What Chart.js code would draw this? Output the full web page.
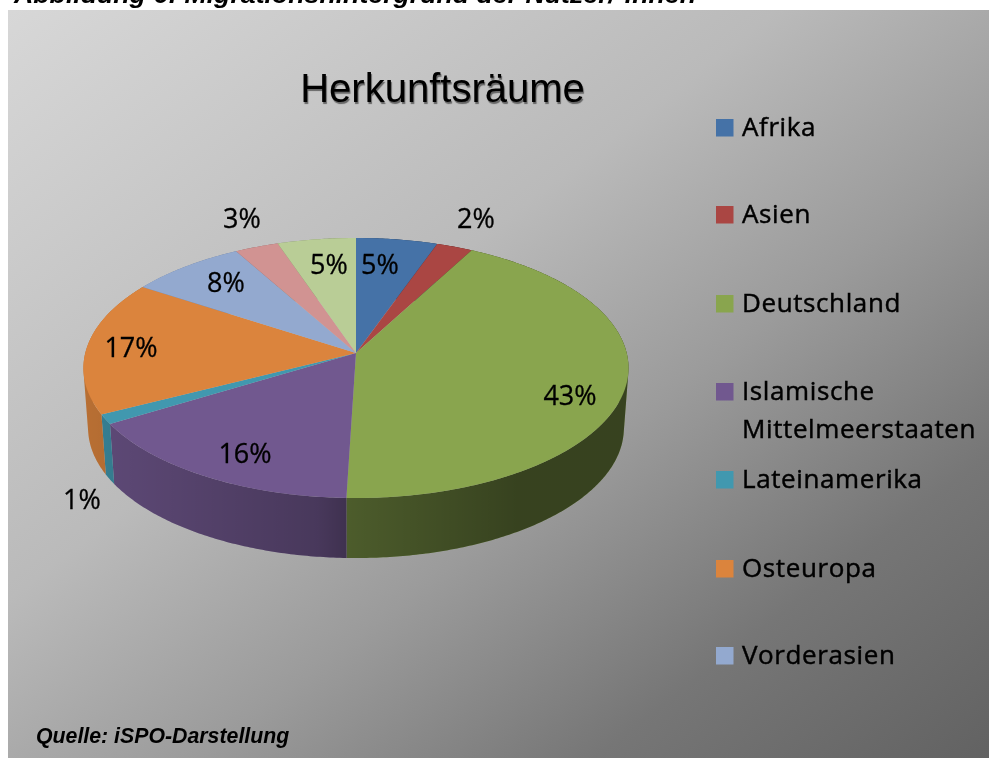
<!DOCTYPE html>
<html lang="de"><head><meta charset="utf-8">
<style>html,body{margin:0;padding:0;background:#fff}canvas{display:block}</style>
<script src="https://cdn.jsdelivr.net/npm/chart.js@4/dist/chart.umd.min.js"></script>
</head><body>
<div style="width:989px;height:758px;position:relative"><canvas id="c" width="989" height="758"></canvas></div>
<script>
const categories = ["Afrika","Asien","Deutschland","Islamische Mittelmeerstaaten","Lateinamerika","Osteuropa","Vorderasien","",""];
const shares = [5.4,2.4,42.7,15.8,1.2,16.7,7.7,2.9,5.2];
const sliceColors = ["#4572a7","#aa4643","#89a54e","#71588f","#4198af","#db843d","#93a9cf","#d19392","#b9cd96"];
const percentLabels = ["5%","2%","43%","16%","1%","17%","8%","3%","5%"];
const labelAnchors = [[380,266],[476,220],[570,397],[245,455],[82,501],[131,349],[226,284],[242,220],[329,266]];
const legendLines = [["Afrika"],["Asien"],["Deutschland"],["Islamische","Mittelmeerstaaten"],["Lateinamerika"],["Osteuropa"],["Vorderasien"]];
const legendBaselines = [136,223,312,400,488,577,664];
const titleText = "Herkunftsräume";
const captionText = "Abbildung 6: Migrationshintergrund der Nutzer/-innen";
const sourceText = "Quelle: iSPO-Darstellung";

// perspective of the tilted pie (screen px)
const CX=356, CY=353, HALF_W=270.7, SQUASH=128.3, PERSP=0.1154, DEPTH=60, RIM_K=0.983;
const project=(u,v)=>{const w=1-PERSP*v;return [CX+HALF_W*u/w, CY+SQUASH*v/w];};
const lower=(p)=>[CX-1+RIM_K*(p[0]-CX+1), p[1]+DEPTH];

const tilted3D={
  id:'tilted3D',
  beforeDraw(chart){
    const ctx=chart.ctx, W=chart.width, H=chart.height;
    ctx.save();
    ctx.fillStyle='#fff';ctx.fillRect(0,0,W,H);
    const nx=1/989, ny=1/758, n2=nx*nx+ny*ny;
    const g=ctx.createLinearGradient(0,0,2*nx/n2,2*ny/n2);
    [[0,216],[.4,186],[.6,155],[.8,118],[1,98]].forEach(s=>g.addColorStop(s[0],`rgb(${s[1]},${s[1]},${s[1]})`));
    ctx.fillStyle=g;ctx.fillRect(8,10,W-8,H-10);
    ctx.restore();
  },
  beforeDatasetDraw(chart){
    const ctx=chart.ctx, arcs=chart.getDatasetMeta(0).data;
    // side wall, outlined from each slice's own angles
    const shade=ctx.createLinearGradient(85,0,625,0);
    [[0,.16],[.43,.36],[.48,.44],[.8,.6],[1,.6]].forEach(s=>shade.addColorStop(s[0],`rgba(0,0,0,${s[1]})`));
    arcs.forEach((arc,i)=>{
      const a0=arc.startAngle,a1=arc.endAngle,n=Math.max(2,Math.ceil((a1-a0)*90));
      const top=[];
      for(let k=0;k<=n;k++){const a=a0+(a1-a0)*k/n;top.push(project(Math.cos(a),Math.sin(a)));}
      ctx.beginPath();
      for(let k=0;k<n;k++){
        const q=[top[k],top[k+1],lower(top[k+1]),lower(top[k])];
        let area=0;
        q.forEach((p,j)=>{const m=q[(j+1)%4];area+=p[0]*m[1]-m[0]*p[1];});
        const o=area<0?q.slice().reverse():q;
        o.forEach((p,j)=>j?ctx.lineTo(p[0],p[1]):ctx.moveTo(p[0],p[1]));
        ctx.closePath();
      }
      ctx.fillStyle=sliceColors[i];ctx.fill();
      ctx.fillStyle=shade;ctx.fill();
    });
    // top face: the library's arcs, warped row by row
    const a=arcs[0], r=a.outerRadius;
    for(let y=230;y<505;y++){
      const t=(y+.5-CY)/SQUASH;
      const v=t/(1+PERSP*t);
      if(Math.abs(v)>1.02) continue;
      const w=1-PERSP*v, sx=(HALF_W/r)/w, sy=(SQUASH/r)/(w*w), Y=a.y+v*r;
      ctx.save();
      ctx.beginPath();ctx.rect(0,y,chart.width,1);ctx.clip();
      ctx.setTransform(sx,0,0,sy,CX-sx*a.x,y+.5-sy*Y);
      arcs.forEach(e=>e.draw(ctx));
      ctx.restore();
    }
    return false;
  },
  afterDraw(chart){
    const ctx=chart.ctx, colors=chart.data.datasets[0].backgroundColor;
    ctx.save();
    ctx.textBaseline='alphabetic';
    ctx.fillStyle='#000';
    ctx.strokeStyle='#000';
    ctx.textAlign='left';
    ctx.font='italic bold 26.7px "Liberation Sans"';
    ctx.fillText(captionText,14,3);
    ctx.font='italic bold 21.3px "Liberation Sans"';
    ctx.fillText(sourceText,36,743);
    // title
    ctx.save();
    ctx.font='40px "Liberation Sans"';
    ctx.textAlign='center';
    ctx.shadowColor='rgba(60,60,60,.7)';ctx.shadowOffsetX=1;ctx.shadowOffsetY=2;ctx.shadowBlur=1;
    ctx.fillText(titleText,442.5,102);
    ctx.restore();
    // legend
    ctx.font='26px "Open Sans"';
    ctx.letterSpacing='0.6px';
    ctx.lineWidth=0.45;
    legendLines.forEach((lines,i)=>{
      const b=legendBaselines[i];
      ctx.fillStyle=colors[i];
      ctx.fillRect(716,b-17,17.5,17.5);
      ctx.fillStyle='#000';
      lines.forEach((l,k)=>{ctx.fillText(l,742,b+k*38);ctx.strokeText(l,742,b+k*38);});
    });
    ctx.letterSpacing='0px';
    // percent labels
    ctx.font='27px "Open Sans"';
    ctx.textAlign='center';ctx.textBaseline='middle';
    ctx.lineWidth=0.3;
    percentLabels.forEach((l,i)=>{ctx.fillText(l,labelAnchors[i][0],labelAnchors[i][1]);ctx.strokeText(l,labelAnchors[i][0],labelAnchors[i][1]);});
    ctx.restore();
  }
};

new Chart(document.getElementById('c'),{
  type:'pie',
  data:{labels:categories,datasets:[{data:shares,backgroundColor:sliceColors,borderWidth:0}]},
  options:{
    responsive:false,animation:false,devicePixelRatio:1,
    plugins:{legend:{display:false},tooltip:{enabled:false},title:{display:false}}
  },
  plugins:[tilted3D]
});
</script>
</body></html>
